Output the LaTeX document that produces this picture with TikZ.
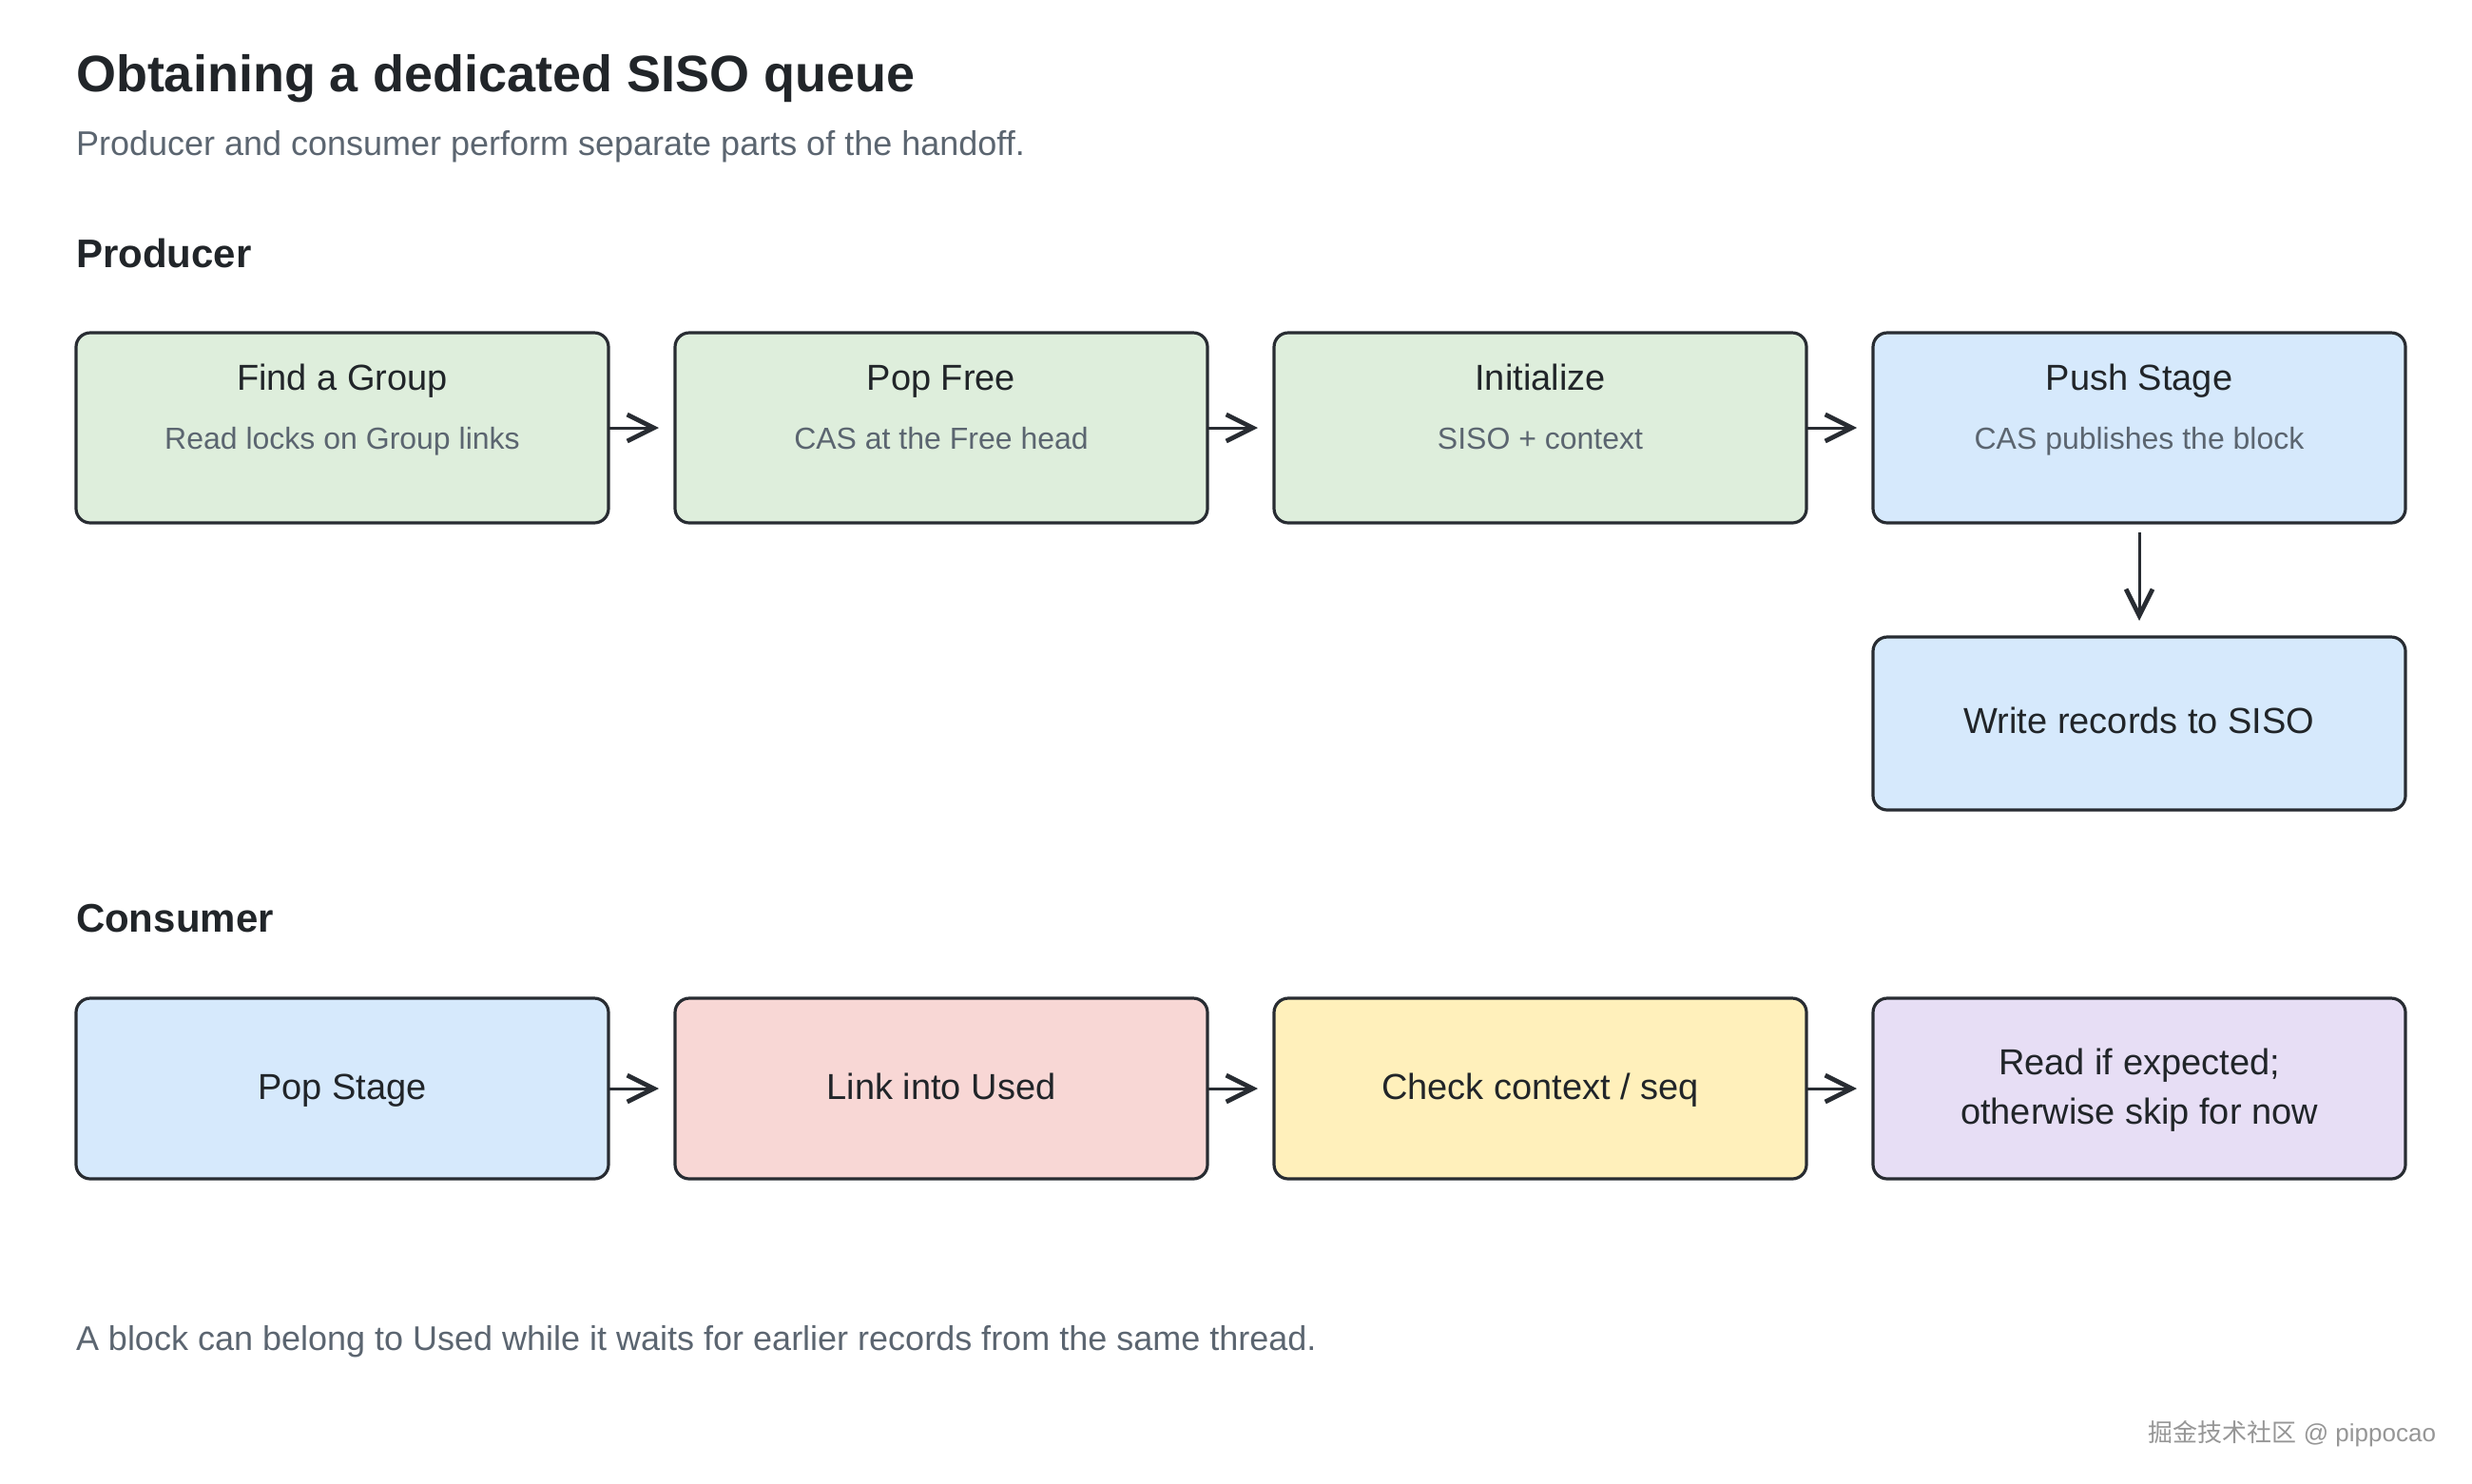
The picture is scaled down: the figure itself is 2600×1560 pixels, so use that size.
\documentclass[tikz,border=0pt]{standalone}
\usepackage{fontspec}
\setmainfont{Liberation Sans}
\newfontfamily\cjkfont{Noto Sans CJK SC}
\usetikzlibrary{arrows.meta}
\definecolor{ink}{RGB}{33,37,41}
\definecolor{muted}{RGB}{91,101,112}
\definecolor{edge}{RGB}{40,44,50}
\definecolor{fillgreen}{RGB}{222,238,220}
\definecolor{fillblue}{RGB}{214,233,252}
\definecolor{fillpink}{RGB}{248,215,213}
\definecolor{fillyellow}{RGB}{255,240,187}
\definecolor{fillpurple}{RGB}{231,222,245}
\definecolor{wmark}{RGB}{150,150,150}
\begin{document}
\begin{tikzpicture}[x=0.5pt,y=-0.5pt,
  stepbox/.style={draw=edge, line width=1.6pt, rounded corners=7.5pt, minimum width=280pt, inner sep=0pt, outer sep=0pt},
  tallbox/.style={stepbox, minimum height=100pt},
  midbox/.style={stepbox, minimum height=91pt},
  lowbox/.style={stepbox, minimum height=95pt},
  txt/.style={inner sep=0pt, outer sep=0pt, text=ink},
  maintitle/.style={txt, anchor=base west, font=\fontsize{27}{32}\selectfont\bfseries},
  subtitle/.style={txt, anchor=base west, text=muted, font=\fontsize{18}{22}\selectfont},
  section/.style={txt, anchor=base west, font=\fontsize{21}{25}\selectfont\bfseries},
  boxtitle/.style={txt, anchor=base, font=\fontsize{19}{23}\selectfont},
  boxsub/.style={txt, anchor=base, text=muted, font=\fontsize{16}{19}\selectfont},
  flow/.style={draw=edge, line width=1.5pt, -{Straight Barb[length=14pt,width=14pt,line width=2.4pt]}}
]
\useasboundingbox (0,0) rectangle (2600,1560);

% headings
\node[maintitle] (title) at (80,96) {Obtaining a dedicated SISO queue};
\node[subtitle] (subtitle) at (80,163) {Producer and consumer perform separate parts of the handoff.};
\node[section] (producer) at (80,281) {Producer};
\node[section] (consumer) at (80,980) {Consumer};

% producer row
\node[tallbox, fill=fillgreen] (find) at (360,450) {};
\node[tallbox, fill=fillgreen] (popfree) at (990,450) {};
\node[tallbox, fill=fillgreen] (init) at (1620,450) {};
\node[tallbox, fill=fillblue] (push) at (2250,450) {};
\node[midbox, fill=fillblue] (write) at (2250,761) {};

\node[boxtitle] (findt) at ([yshift=20pt]find.center) {Find a Group};
\node[boxsub] (finds) at ([yshift=-11pt]find.center) {Read locks on Group links};
\node[boxtitle] (popfreet) at ([yshift=20pt]popfree.center) {Pop Free};
\node[boxsub] (popfrees) at ([yshift=-11pt]popfree.center) {CAS at the Free head};
\node[boxtitle] (initt) at ([yshift=20pt]init.center) {Initialize};
\node[boxsub] (inits) at ([yshift=-11pt]init.center) {SISO + context};
\node[boxtitle] (pusht) at ([yshift=20pt]push.center) {Push Stage};
\node[boxsub] (pushs) at ([yshift=-11pt]push.center) {CAS publishes the block};
\node[boxtitle] (writet) at ([yshift=-5pt]write.center) {Write records to SISO};

% consumer row
\node[lowbox, fill=fillblue] (popstage) at (360,1145) {};
\node[lowbox, fill=fillpink] (link) at (990,1145) {};
\node[lowbox, fill=fillyellow] (check) at (1620,1145) {};
\node[lowbox, fill=fillpurple] (readnode) at (2250,1145) {};

\node[boxtitle] (popstaget) at ([yshift=-5.5pt]popstage.center) {Pop Stage};
\node[boxtitle] (linkt) at ([yshift=-5.5pt]link.center) {Link into Used};
\node[boxtitle] (checkt) at ([yshift=-5.5pt]check.center) {Check context / seq};
\node[boxtitle] (readt1) at ([yshift=7.5pt]readnode.center) {Read if expected;};
\node[boxtitle] (readt2) at ([yshift=-18.5pt]readnode.center) {otherwise skip for now};

% connectors
\draw[flow, shorten >=8.5pt] (find.east) -- (popfree.west);
\draw[flow, shorten >=8.5pt] (popfree.east) -- (init.west);
\draw[flow, shorten >=8.5pt] (init.east) -- (push.west);
\draw[flow, shorten <=5pt, shorten >=8.5pt] (push.south) -- (write.north);
\draw[flow, shorten >=8.5pt] (popstage.east) -- (link.west);
\draw[flow, shorten >=8.5pt] (link.east) -- (check.west);
\draw[flow, shorten >=8.5pt] (check.east) -- (readnode.west);

% footer
\node[subtitle] (footer) at (80,1420) {A block can belong to Used while it waits for earlier records from the same thread.};
\node[txt, anchor=east, text=wmark, font=\fontsize{13}{15}\selectfont] (watermark) at (2562,1508) {{\cjkfont 掘金技术社区} @ pippocao};
\end{tikzpicture}
\end{document}
